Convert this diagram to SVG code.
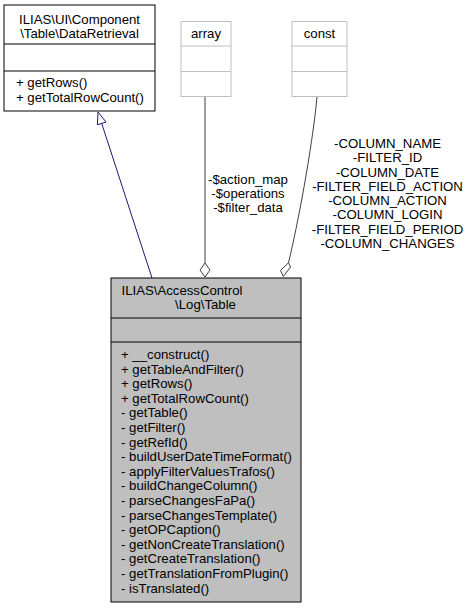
<svg xmlns="http://www.w3.org/2000/svg" width="471" height="609" viewBox="0 0 471 609">
<style>
text{font-family:"Liberation Sans",Arial,sans-serif;font-size:13.2px;fill:#000}
.m{text-anchor:middle}
.box{fill:#fff;stroke:#000;stroke-width:1}
.gbox{fill:#fff;stroke:#bfbfbf;stroke-width:1}
.main{fill:#bfbfbf;stroke:#000;stroke-width:1}
.e{fill:none;stroke:#404040;stroke-width:1}
.inh{fill:none;stroke:#191970;stroke-width:1}
</style>
<rect width="471" height="609" fill="#fff"/>
<g id="edges">
<path class="inh" d="M152,278 L101.7,123.4"/>
<polygon points="98,112 97.4,124.8 106,122" fill="#fff" stroke="#191970" stroke-width="1"/>
<path class="e" d="M205,97 L205,263"/>
<polygon points="205,263 210,270 205,277 200,270" fill="#fff" stroke="#404040" stroke-width="1"/>
<path class="e" d="M317,97 C312,150 297,228 288.5,262.7"/>
<polygon points="288.5,262.7 290.5,267 283.3,276.5 280.5,270.5" fill="#fff" stroke="#404040" stroke-width="1"/>
<text class="m" x="248" y="184">-$action_map</text>
<text class="m" x="248" y="198">-$operations</text>
<text class="m" x="248" y="212">-$filter_data</text>
<text class="m" x="387.5" y="148">-COLUMN_NAME</text>
<text class="m" x="387.5" y="162.2">-FILTER_ID</text>
<text class="m" x="387.5" y="176.5">-COLUMN_DATE</text>
<text class="m" x="387.5" y="190.7">-FILTER_FIELD_ACTION</text>
<text class="m" x="387.5" y="205">-COLUMN_ACTION</text>
<text class="m" x="387.5" y="219.2">-COLUMN_LOGIN</text>
<text class="m" x="387.5" y="233.5">-FILTER_FIELD_PERIOD</text>
<text class="m" x="387.5" y="247.7">-COLUMN_CHANGES</text>
</g>
<g id="DataRetrieval">
<rect class="box" x="4" y="5" width="151" height="106"/>
<line x1="4" y1="44" x2="155" y2="44" stroke="#000"/>
<line x1="4" y1="71" x2="155" y2="71" stroke="#000"/>
<text class="m" x="79.5" y="23.5">ILIAS\UI\Component</text>
<text class="m" x="79.5" y="37.5">\Table\DataRetrieval</text>
<text x="16" y="87">+ getRows()</text>
<text x="16" y="101.5">+ getTotalRowCount()</text>
</g>
<g id="array">
<rect class="gbox" x="181" y="21.5" width="50" height="75"/>
<line x1="181" y1="46" x2="231" y2="46" stroke="#bfbfbf"/>
<line x1="181" y1="71.5" x2="231" y2="71.5" stroke="#bfbfbf"/>
<text class="m" x="206" y="37.5">array</text>
</g>
<g id="const">
<rect class="gbox" x="292" y="21.5" width="55" height="75"/>
<line x1="292" y1="46" x2="347" y2="46" stroke="#bfbfbf"/>
<line x1="292" y1="71.5" x2="347" y2="71.5" stroke="#bfbfbf"/>
<text class="m" x="319.5" y="37.5">const</text>
</g>
<g id="Table">
<rect class="main" x="111" y="278" width="190" height="324"/>
<line x1="111" y1="318" x2="301" y2="318" stroke="#000"/>
<line x1="111" y1="342" x2="301" y2="342" stroke="#000"/>
<text x="121.5" y="294.5">ILIAS\AccessControl</text>
<text class="m" x="205.5" y="308.5">\Log\Table</text>
<text x="121" y="359">+ __construct()</text>
<text x="121" y="373.6">+ getTableAndFilter()</text>
<text x="121" y="388.2">+ getRows()</text>
<text x="121" y="402.8">+ getTotalRowCount()</text>
<text x="121" y="417.4">- getTable()</text>
<text x="121" y="432">- getFilter()</text>
<text x="121" y="446.6">- getRefId()</text>
<text x="121" y="461.2">- buildUserDateTimeFormat()</text>
<text x="121" y="475.8">- applyFilterValuesTrafos()</text>
<text x="121" y="490.4">- buildChangeColumn()</text>
<text x="121" y="505">- parseChangesFaPa()</text>
<text x="121" y="519.6">- parseChangesTemplate()</text>
<text x="121" y="534.2">- getOPCaption()</text>
<text x="121" y="548.8">- getNonCreateTranslation()</text>
<text x="121" y="563.4">- getCreateTranslation()</text>
<text x="121" y="578">- getTranslationFromPlugin()</text>
<text x="121" y="592.6">- isTranslated()</text>
</g>
</svg>
